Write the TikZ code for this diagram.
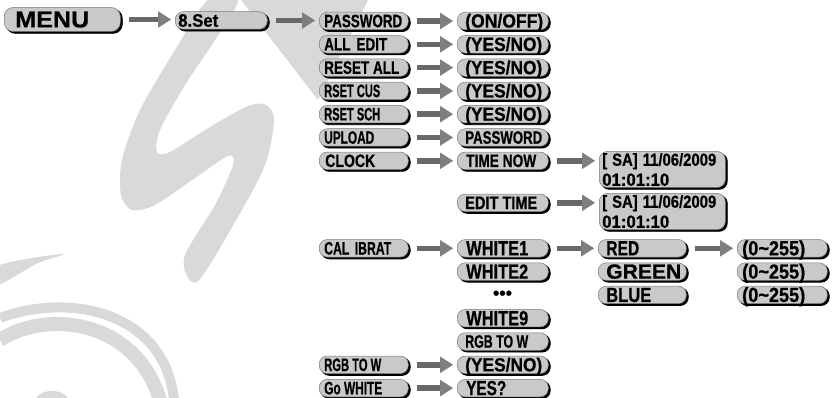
\documentclass[tikz,border=0pt]{standalone}
\usepackage{fontspec}
\setmainfont{Liberation Sans}[BoldFeatures={FakeBold=0.7}]
\usepackage{graphicx}
\usetikzlibrary{arrows.meta}
\definecolor{boxfill}{HTML}{C9C9C9}
\definecolor{boxline}{HTML}{7A7A7A}
\definecolor{shaftc}{HTML}{686868}
\definecolor{headc}{HTML}{7E7E7E}
\definecolor{wmc}{HTML}{D9D9D9}
\newcommand\fz[1]{\fontsize{#1}{#1}\selectfont\bfseries}
\newcommand\bx[4]{\makebox[#1pt][l]{\hspace*{#2pt}\resizebox{#3pt}{\height}{#4}}}
\begin{document}
\begin{tikzpicture}[x=1pt,y=-1pt,
 box/.style={draw=boxline, line width=0.5pt, fill=boxfill, rounded corners=8pt,
   inner xsep=0pt, inner ysep=0pt, minimum height=17.5pt, anchor=west,
   preaction={draw=black, fill=black, line width=0.8pt, transform canvas={xshift=2pt, yshift=-1.8pt}}},
 sa/.style={font=\fz{18}, text height=12.4pt, text depth=0pt},
 sb/.style={font=\fz{19}, text height=13.1pt, text depth=0pt},
 sc/.style={font=\fz{20.5}, text height=14.1pt, text depth=0pt},
 datef/.style={font=\fontsize{17.5}{20}\selectfont\bfseries},
 arr/.style={line width=5.5pt, draw=shaftc, shorten <=8pt, shorten >=4pt,
   -{Triangle[length=13pt,width=16.5pt,line width=0.4pt,color=headc,fill=headc]}},
]
\useasboundingbox (0,0) rectangle (832,398);
% watermark
\begin{scope}
\clip (0,0) rectangle (832,398);
\fill[wmc] plot[smooth cycle, tension=0.5] coordinates {(208,0) (238,0) (215,40) (185,85) (160,130) (157,152) (170,152) (210,127) (248,106) (266,105) (274,120) (265,165) (235,222) (197,282) (184,258) (215,205) (233,165) (228,156) (195,178) (155,205) (132,210) (121,195) (122,160) (140,110) (175,50)};
\fill[wmc] (241,0) -- (368,0) -- (318,100) -- cycle;
\fill[wmc] plot[smooth cycle, tension=0.4] coordinates {(-2,266) (32,258) (64,254) (36,264) (-2,285)};
\draw[wmc, line width=10pt] (0,318) .. controls (70,292) and (165,312) .. (174,400);
\draw[wmc, line width=14pt] (0,340) .. controls (45,310) and (135,318) .. (160,400);
\fill[wmc] (52,400) ellipse [x radius=16, y radius=9];
\end{scope}
% column A, B
\node[box, font=\fz{23}, text height=15.8pt, text depth=0pt, minimum height=24pt, rounded corners=9pt] (menu) at (4,19.5) {\bx{116}{11}{74}{MENU}};
\node[box, sa] (set) at (175,20.5) {\bx{92}{3}{40}{8.Set}};
% column C
\node[box, sa] (c0) at (319,21)    {\bx{89}{5}{78}{PASSWORD}};
\node[box, sa] (c1) at (319,44.3)  {\bx{89}{5}{63}{ALL\hspace{3pt} EDIT}};
\node[box, sa] (c2) at (319,67.6)  {\bx{89}{5}{75}{RESET ALL}};
\node[box, sa] (c3) at (319,90.9)  {\bx{89}{5}{56}{RSET CUS}};
\node[box, sa] (c4) at (319,114.2) {\bx{89}{5}{56}{RSET SCH}};
\node[box, sa] (c5) at (319,137.5) {\bx{89}{5}{50}{UPLOAD}};
\node[box, sa] (c6) at (319,160.8) {\bx{89}{6}{50}{CLOCK}};
\node[box, sa] (c7) at (319,248.3) {\bx{89}{5}{67}{CAL\hspace{3pt} IBRAT}};
\node[box, sa] (c8) at (319,364.8) {\bx{89}{5}{57}{RGB TO W}};
\node[box, sa] (c9) at (319,388.1) {\bx{89}{5}{58}{Go WHITE}};
% column D
\node[box, sb] (d0) at (457,21)    {\bx{91}{8}{78}{(ON/OFF)}};
\node[box, sb] (d1) at (457,44.3)  {\bx{91}{8}{77}{(YES/NO)}};
\node[box, sb] (d2) at (457,67.6)  {\bx{91}{8}{77}{(YES/NO)}};
\node[box, sb] (d3) at (457,90.9)  {\bx{91}{8}{77}{(YES/NO)}};
\node[box, sb] (d4) at (457,114.2) {\bx{91}{8}{77}{(YES/NO)}};
\node[box, sa] (d5) at (457,137.5) {\bx{91}{8}{77}{PASSWORD}};
\node[box, sa] (d6) at (457,160.8) {\bx{91}{9}{70}{TIME NOW}};
\node[box, sa] (d7) at (457,202.8) {\bx{91}{8}{72}{EDIT TIME}};
\node[box, sc] (d8) at (457,248.3) {\bx{91}{9}{62}{WHITE1}};
\node[box, sc] (d9) at (457,271.6) {\bx{91}{9}{62}{WHITE2}};
\node[font=\fz{18}] (dots) at (502.5,294.9) {\resizebox{19pt}{\height}{•••}};
\node[box, sc] (d10) at (457,318.2) {\bx{91}{9}{62}{WHITE9}};
\node[box, sa] (d11) at (457,341.5) {\bx{91}{8}{63}{RGB TO W}};
\node[box, sb] (d12) at (457,364.8) {\bx{91}{8}{77}{(YES/NO)}};
\node[box, sc] (d13) at (457,388.1) {\bx{91}{9}{40}{YES?}};
% dates
\node[box, minimum height=36pt, datef, align=left, text width=126pt] (e1) at (599,169.5)
  {\hspace*{3pt}\resizebox{114pt}{\height}{[ SA] 11/06/2009}\\\hspace*{3pt}\resizebox{67pt}{\height}{01:01:10}};
\node[box, minimum height=36pt, datef, align=left, text width=126pt] (e2) at (599,211.5)
  {\hspace*{3pt}\resizebox{114pt}{\height}{[ SA] 11/06/2009}\\\hspace*{3pt}\resizebox{67pt}{\height}{01:01:10}};
% column F, G
\node[box, sc] (f0) at (598,248.3) {\bx{88}{8}{33}{RED}};
\node[box, sc] (f1) at (598,271.6) {\bx{88}{8}{75}{GREEN}};
\node[box, sc] (f2) at (598,294.9) {\bx{88}{8}{45}{BLUE}};
\node[box, sc] (g0) at (737,248.3) {\bx{90}{5}{63}{(0\textasciitilde255)}};
\node[box, sc] (g1) at (737,271.6) {\bx{90}{5}{63}{(0\textasciitilde255)}};
\node[box, sc] (g2) at (737,294.9) {\bx{90}{5}{63}{(0\textasciitilde255)}};
% arrows
\draw[arr] (menu.east) -- (menu.east -| set.west);
\draw[arr] (set.east) -- (set.east -| c0.west);
\foreach \s/\t in {c0/d0,c1/d1,c2/d2,c3/d3,c4/d4,c5/d5,c6/d6,d6/e1,d7/e2,c7/d8,d8/f0,f0/g0,c8/d12,c9/d13}
  \draw[arr] (\s.east) -- (\s.east -| \t.west);
\end{tikzpicture}
\end{document}
